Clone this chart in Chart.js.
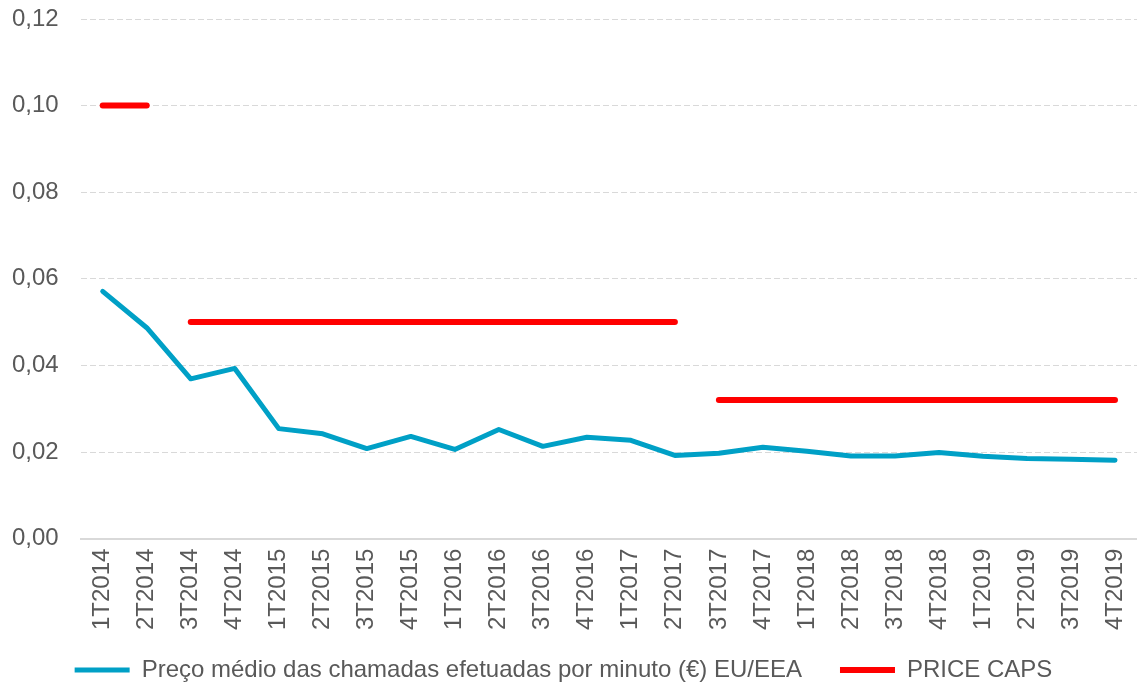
<!DOCTYPE html>
<html>
<head>
<meta charset="utf-8">
<script src="https://cdn.jsdelivr.net/npm/chart.js@4/dist/chart.umd.min.js"></script>
<style>
    body { margin: 0; background: #ffffff; }
    #wrap { width: 1137px; height: 686px; position: relative; }
</style>
</head>
<body>
<div id="wrap"><canvas id="precoChart"></canvas></div>
<script>
var trimestres = ['1T2014', '2T2014', '3T2014', '4T2014', '1T2015', '2T2015', '3T2015', '4T2015',
    '1T2016', '2T2016', '3T2016', '4T2016', '1T2017', '2T2017', '3T2017', '4T2017',
    '1T2018', '2T2018', '3T2018', '4T2018', '1T2019', '2T2019', '3T2019', '4T2019'];

var precoMedio = [0.0571, 0.0487, 0.0369, 0.0393, 0.0254, 0.0242, 0.0208, 0.0236,
    0.0206, 0.0252, 0.0213, 0.0234, 0.0227, 0.0192, 0.0197, 0.0211,
    0.0202, 0.0191, 0.0191, 0.0199, 0.0190, 0.0185, 0.0183, 0.0181];

var priceCaps = [0.10, 0.10, 0.05, 0.05, 0.05, 0.05, 0.05, 0.05,
    0.05, 0.05, 0.05, 0.05, 0.05, 0.05, 0.032, 0.032,
    0.032, 0.032, 0.032, 0.032, 0.032, 0.032, 0.032, 0.032];

var yTicks = [0, 0.02, 0.04, 0.06, 0.08, 0.10, 0.12];

var azul = '#00a0c6';
var vermelho = '#ff0000';
var cinza = '#595959';

var lineChart = new Chart(document.getElementById('precoChart'), {
    type: 'line',
    data: {
        labels: trimestres,
        datasets: [{
            label: 'Preço médio das chamadas efetuadas por minuto (€) EU/EEA',
            data: precoMedio,
            borderColor: azul,
            backgroundColor: azul,
            borderWidth: 5,
            pointRadius: 0,
            pointStyle: 'line',
            borderCapStyle: 'round',
            borderJoinStyle: 'round',
            tension: 0
        }, {
            label: 'PRICE CAPS',
            data: priceCaps,
            borderColor: vermelho,
            backgroundColor: vermelho,
            borderWidth: 6,
            pointRadius: 0,
            pointStyle: 'line',
            borderCapStyle: 'round',
            segment: {
                // cap changes between periods: no line joining them
                borderColor: function (ctx) {
                    return ctx.p0.parsed.y !== ctx.p1.parsed.y ? 'rgba(0,0,0,0)' : vermelho;
                }
            }
        }]
    },
    options: {
        responsive: true,
        maintainAspectRatio: false,
        animation: false,
        layout: {
            padding: {top: 19, left: -10, right: 0, bottom: -6}
        },
        plugins: {
            tooltip: {enabled: false},
            legend: {
                position: 'bottom',
                labels: {
                    color: cinza,
                    font: {family: 'Liberation Sans', size: 24},
                    usePointStyle: true,
                    pointStyleWidth: 55,
                    boxHeight: 6,
                    padding: 18,
                    generateLabels: function (chart) {
                        var items = Chart.defaults.plugins.legend.labels.generateLabels(chart);
                        // a bit more room between the two entries
                        items[0].text = items[0].text + '   ';
                        return items;
                    }
                }
            }
        },
        scales: {
            x: {
                offset: true,
                grid: {display: false, drawTicks: false},
                border: {color: '#d9d9d9', width: 2},
                ticks: {
                    color: cinza,
                    font: {family: 'Liberation Sans', size: 24},
                    minRotation: 90,
                    maxRotation: 90,
                    autoSkip: false,
                    padding: 10
                },
                afterFit: function (scale) {
                    scale.paddingLeft = 0;
                    scale.paddingRight = 0;
                }
            },
            y: {
                min: 0,
                max: 0.12,
                afterBuildTicks: function (axis) {
                    axis.ticks = yTicks.map(function (v) { return {value: v}; });
                },
                afterFit: function (scale) {
                    scale.paddingTop = 0;
                    scale.paddingBottom = 0;
                },
                grid: {
                    color: '#d9d9d9',
                    lineWidth: 1,
                    drawTicks: false
                },
                border: {display: false, dash: [6, 3]},
                ticks: {
                    color: cinza,
                    font: {family: 'Liberation Sans', size: 24},
                    padding: 22,
                    callback: function (value) {
                        return value.toFixed(2).replace('.', ',');
                    }
                }
            }
        }
    }
});
</script>
</body>
</html>
